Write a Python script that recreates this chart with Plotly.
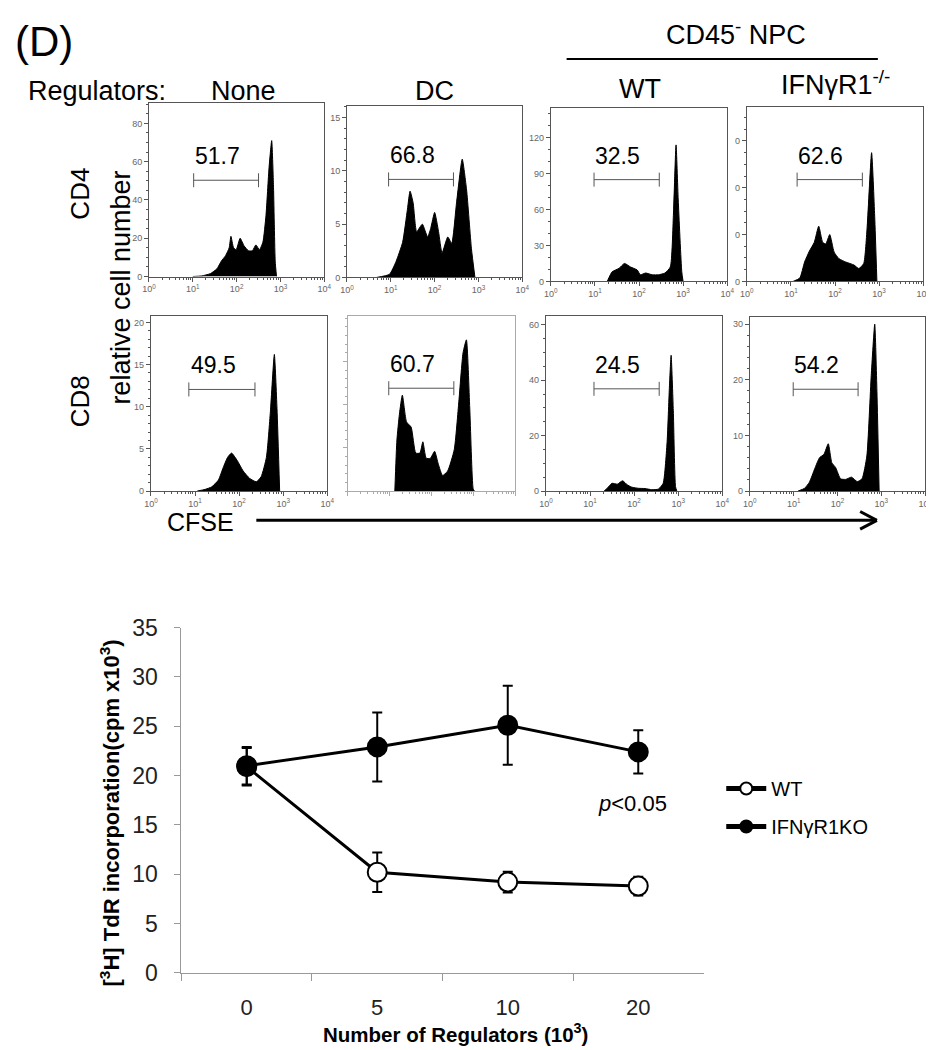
import plotly.graph_objects as go
import numpy as np

W, H = 934, 1050
FONT = "Liberation Sans"

# ---- CFSE histograms (x = log10 CFSE, y = cell count) ----
cd4_none_x = [1.0, 1.2, 1.4, 1.55, 1.65, 1.75, 1.83, 1.87, 1.93, 1.99, 2.08, 2.17, 2.27, 2.36, 2.44, 2.52, 2.6, 2.67, 2.74, 2.8, 2.84, 2.88, 2.91]
cd4_none_y = [0, 0.3, 1.5, 4, 8, 11, 15, 21, 15, 14, 20, 16, 13.5, 13.5, 16.5, 14, 18, 32, 57, 71, 48, 8, 0]

cd4_dc_x = [0.67, 0.97, 1.12, 1.27, 1.38, 1.44, 1.51, 1.59, 1.72, 1.84, 1.91, 2.0, 2.09, 2.17, 2.3, 2.39, 2.5, 2.63, 2.73, 2.84, 2.92]
cd4_dc_y = [0, 0.3, 1.5, 3.3, 6.4, 8.1, 7, 4.3, 5, 3.8, 4.6, 6.1, 4.3, 2.3, 3.8, 3.2, 7, 11.1, 8.2, 2.7, 0]

cd4_wt_x = [1.28, 1.39, 1.55, 1.67, 1.81, 1.96, 2.03, 2.15, 2.3, 2.44, 2.59, 2.71, 2.78, 2.84, 2.89, 2.97, 3.0]
cd4_wt_y = [0, 8, 11, 15, 12, 9.5, 5.5, 7, 5.5, 5.5, 7, 12, 55, 114, 68, 8, 0]

cd4_ko_x = [1.05, 1.2, 1.31, 1.42, 1.53, 1.63, 1.72, 1.79, 1.88, 1.98, 2.09, 2.24, 2.43, 2.54, 2.65, 2.73, 2.83, 2.9, 2.95]
cd4_ko_y = [0, 1.4, 8.3, 13, 16.7, 23.6, 16.7, 16, 20, 12.5, 9.7, 8.3, 7, 5.5, 7.6, 23.6, 55, 27.8, 0]

cd8_none_x = [1.05, 1.23, 1.38, 1.53, 1.64, 1.74, 1.83, 1.96, 2.09, 2.24, 2.39, 2.5, 2.62, 2.71, 2.8, 2.86, 2.92]
cd8_none_y = [0, 0.2, 0.5, 1.3, 2.8, 4, 4.5, 3.6, 2.4, 1.5, 1.1, 1.7, 4, 9.4, 16.2, 9.8, 0]

cd8_dc_x = [1.12, 1.17, 1.23, 1.30, 1.40, 1.51, 1.62, 1.72, 1.79, 1.87, 1.97, 2.07, 2.16, 2.26, 2.38, 2.54, 2.65, 2.75, 2.83, 2.91, 2.99, 3.02]
cd8_dc_y = [0, 5.9, 8.9, 11.1, 8, 7.4, 4.4, 4.4, 5.7, 3.8, 3.8, 4.6, 3.1, 1.8, 2.3, 4.8, 10.4, 16, 17.5, 9.6, 0.3, 0]

cd8_wt_x = [1.32, 1.39, 1.5, 1.62, 1.74, 1.84, 1.95, 2.1, 2.25, 2.4, 2.55, 2.66, 2.75, 2.8, 2.84, 2.89, 2.94, 2.97]
cd8_wt_y = [0, 1, 2.8, 2.5, 3.7, 2.3, 1.4, 1, 0.9, 0.5, 0.7, 2.8, 18, 37, 49, 29, 1.6, 0]

cd8_ko_x = [1.1, 1.25, 1.36, 1.48, 1.59, 1.69, 1.79, 1.87, 1.96, 2.07, 2.19, 2.32, 2.45, 2.56, 2.67, 2.77, 2.85, 2.9, 2.95]
cd8_ko_y = [0, 0.5, 1.6, 4, 6, 6.6, 8.5, 5.1, 4.2, 2.2, 2.1, 2.5, 1.7, 2.2, 6.3, 20.8, 30, 17.9, 0]

# gates: (low, high, level) and percentage labels
gate_lo = [1.02, 0.95, 0.98, 1.14, 0.86, 0.975, 1.09, 0.99]
gate_hi = [2.50, 2.43, 2.46, 2.62, 2.36, 2.53, 2.57, 2.47]
gate_level = [50.3, 9.2, 85, 43.5, 12.05, 11.9, 36.9, 18.3]
gate_pct = ["51.7", "66.8", "32.5", "62.6", "49.5", "60.7", "24.5", "54.2"]

# ---- thymidine incorporation ----
regulators = ["0", "5", "10", "20"]
wt_mean = [20.9, 10.2, 9.2, 8.8]
wt_err = [1.9, 2.0, 1.05, 0.95]
ko_mean = [21.0, 22.9, 25.1, 22.4]
ko_err = [1.9, 3.5, 4.0, 2.2]

hists = [
    (cd4_none_x, cd4_none_y), (cd4_dc_x, cd4_dc_y), (cd4_wt_x, cd4_wt_y), (cd4_ko_x, cd4_ko_y),
    (cd8_none_x, cd8_none_y), (cd8_dc_x, cd8_dc_y), (cd8_wt_x, cd8_wt_y), (cd8_ko_x, cd8_ko_y),
]

# panel boxes in pixels (left, right, top, bottom), y max, y ticks, y tick text, minor step
panels = [
    ((136, 314, 84, 262), 90.7, [0, 20, 40, 60, 80], None, 5),
    ((337, 515, 87, 263), 16.1, [0, 5, 10, 15], None, 1),
    ((544, 723, 89, 267), 145, [0, 30, 60, 90, 120], None, 10),
    ((743, 922, 88, 267), 74.6, [0, 20, 40, 60], ["0", "0", "0", "0"], 5),
    ((138, 317, 303, 482), 20.7, [0, 5, 10, 15, 20], None, 1),
    ((338, 508, 303, 482), 20.2, [5, 10, 15], None, 1),
    ((539, 718, 303, 482), 63, [0, 20, 40, 60], None, 5),
    ((746, 924, 304, 482), 31.2, [0, 10, 20, 30], None, 2),
]

def px(x):
    return x / W

def py(y):
    return 1 - y / H

minor_x = [d + np.log10(k) for d in range(4) for k in range(2, 10)]
dec_text = ["10<sup>%d</sup>" % d for d in range(5)]

fig = go.Figure()
shapes = []
annotations = []
layout = {}

for i, ((hx, hy), (box, ymax, yt, ytt, ymin)) in enumerate(zip(hists, panels)):
    n = i + 1
    xa = "x" if n == 1 else "x%d" % n
    ya = "y" if n == 1 else "y%d" % n
    faded = (n == 6)
    lc = "#aaaaaa" if faded else "#555555"
    fig.add_trace(go.Scatter(
        x=hx, y=hy, xaxis=xa, yaxis=ya, mode="lines",
        fill="tozeroy", fillcolor="black",
        line=dict(color="black", width=1, shape="spline", smoothing=0.5),
        showlegend=False, hoverinfo="skip",
    ))
    l, r, t, b = box
    key = "" if n == 1 else str(n)
    layout["xaxis" + key] = dict(
        domain=[px(l), px(r)], anchor=ya, range=[0, 4],
        showline=True, mirror=True, linecolor=lc, linewidth=1,
        ticks="outside", ticklen=4, tickcolor=lc,
        tickvals=list(range(5)), ticktext=dec_text,
        showticklabels=not faded,
        tickfont=dict(family=FONT, size=9, color="#666666"),
        minor=dict(tickvals=minor_x, ticks="outside", ticklen=2, tickcolor=lc),
        showgrid=False, zeroline=False, fixedrange=True,
    )
    ydict = dict(
        domain=[py(b), py(t)], anchor=xa, range=[0, ymax],
        showline=True, mirror=True, linecolor=lc, linewidth=1,
        ticks="outside", ticklen=4, tickcolor=lc,
        tickvals=yt, showticklabels=not faded,
        tickfont=dict(family=FONT, size=9, color="#666666"),
        minor=dict(dtick=ymin, ticks="outside", ticklen=2, tickcolor=lc),
        showgrid=False, zeroline=False, fixedrange=True,
    )
    if ytt:
        ydict["ticktext"] = ytt
    layout["yaxis" + key] = ydict

    # gate bracket
    g = dict(xref=xa, yref=ya, line=dict(color="#555555", width=1))
    shapes.append(dict(type="line", x0=gate_lo[i], x1=gate_hi[i], y0=gate_level[i], y1=gate_level[i], **g))
    for gx in (gate_lo[i], gate_hi[i]):
        shapes.append(dict(type="line", x0=gx, x1=gx, ysizemode="pixel", yanchor=gate_level[i],
                           y0=-7, y1=7, **g))
    annotations.append(dict(
        x=(gate_lo[i] + gate_hi[i]) / 2 - 0.2, y=gate_level[i], xref=xa, yref=ya,
        yshift=24, text=gate_pct[i], showarrow=False,
        font=dict(family=FONT, size=23, color="black"),
    ))

# ---- line chart ----
fig.add_trace(go.Scatter(
    x=regulators, y=wt_mean, xaxis="x9", yaxis="y9", name="WT",
    mode="lines+markers", legendgroup="wt",
    line=dict(color="black", width=3),
    marker=dict(size=19, color="white", line=dict(color="black", width=2)),
    error_y=dict(type="data", array=wt_err, color="black", thickness=2, width=5),
))
fig.add_trace(go.Scatter(
    x=regulators, y=ko_mean, xaxis="x9", yaxis="y9", name="IFNγR1KO",
    mode="lines+markers", legendgroup="ko",
    line=dict(color="black", width=3),
    marker=dict(size=19, color="black", line=dict(color="black", width=2)),
    error_y=dict(type="data", array=ko_err, color="black", thickness=2, width=5),
))

layout["xaxis9"] = dict(
    domain=[px(169), px(699)], anchor="y9", type="category",
    categoryorder="array", categoryarray=regulators, range=[-0.5, 3.5],
    tickson="boundaries", ticks="outside", ticklen=7, tickcolor="#999999",
    showline=True, linecolor="#999999", linewidth=1,
    tickfont=dict(family=FONT, size=22, color="#222222"), ticklabelstandoff=15,
    showgrid=False, zeroline=False, fixedrange=True,
)
layout["yaxis9"] = dict(
    domain=[py(976), py(622)], anchor="x9", range=[0, 35], dtick=5,
    ticks="outside", ticklen=6, tickcolor="#999999",
    showline=True, linecolor="#999999", linewidth=1,
    tickfont=dict(family=FONT, size=23, color="#222222"), ticklabelstandoff=12,
    showgrid=False, zeroline=False, fixedrange=True,
)

def label(text, x, y, size, angle=0, **kw):
    annotations.append(dict(
        text=text, x=px(x), y=py(y), xref="paper", yref="paper",
        showarrow=False, textangle=angle, xanchor="center", yanchor="middle",
        font=dict(family=FONT, size=size, color="black", **kw),
    ))

label("(D)", 29, 21, 42)
label("Regulators:", 83, 72, 27)
label("None", 232, 72, 27)
label("DC", 426, 72, 27)
label("CD45<sup>-</sup> NPC", 732, 12, 27)
label("WT", 635, 70, 27)
label("IFNγR1<sup>-/-</sup>", 833, 64, 27)
label("CD4", 66, 177, 26, angle=-90)
label("CD8", 66, 390, 26, angle=-90)
label("relative cell number", 108, 273, 27, angle=-90)
label("CFSE", 188, 514, 25)
label("<i>p</i><0.05", 627, 802, 22)
label("<b>[<sup>3</sup>H] TdR incorporation(cpm x10<sup>3</sup>)</b>", 96, 812, 22, angle=-90)
label("<b>Number of Regulators (10<sup>3</sup>)</b>", 447, 1038, 20.5)

paper_line = dict(type="line", xref="paper", yref="paper", line=dict(color="black", width=2))
shapes.append(dict(x0=px(560), x1=px(876), y0=py(39), y1=py(39), **paper_line))
arrow = dict(type="line", xref="paper", yref="paper", line=dict(color="black", width=3))
shapes.append(dict(x0=px(245), x1=px(875), y0=py(512), y1=py(512), **arrow))
shapes.append(dict(x0=px(858), x1=px(875), y0=py(503), y1=py(512), **arrow))
shapes.append(dict(x0=px(858), x1=px(875), y0=py(521), y1=py(512), **arrow))

fig.update_layout(
    width=W, height=H,
    margin=dict(l=0, r=0, t=0, b=0),
    paper_bgcolor="white", plot_bgcolor="white",
    font=dict(family=FONT, color="black"),
    shapes=shapes, annotations=annotations,
    showlegend=True,
    legend=dict(x=px(717), y=py(767), xanchor="left", yanchor="top",
                font=dict(family=FONT, size=20, color="black"),
                bgcolor="rgba(0,0,0,0)", traceorder="grouped", tracegroupgap=9,
                itemsizing="constant", itemwidth=40),
)
fig.update_layout(**layout)

fig.write_html("out.html")
